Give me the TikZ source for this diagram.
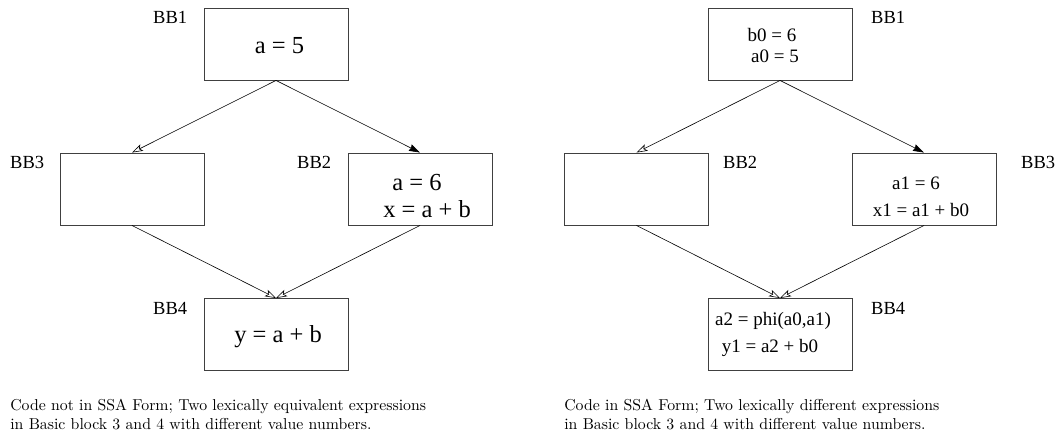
\documentclass[tikz,border=0pt]{standalone}
\usepackage{fontspec}
\newfontfamily\tms{Liberation Serif}
\usetikzlibrary{arrows.meta}
\begin{document}
\begin{tikzpicture}[x=1pt,y=-1pt,
  bbox/.style={draw=black!75,line width=0.9pt,minimum width=144pt,minimum height=72pt,inner sep=0pt},
  lbl/.style={font=\tms\fontsize{18.5}{20}\selectfont,anchor=base west,inner sep=0pt},
  big/.style={font=\tms\fontsize{24.5}{26}\selectfont,anchor=base,inner sep=0pt},
  small/.style={font=\tms\fontsize{19}{21}\selectfont,anchor=base,inner sep=0pt},
  captext/.style={font=\fontsize{10}{12}\selectfont,scale=1.58,transform shape,anchor=base west,inner sep=0pt},
  oarr/.style={-{Stealth[open,length=11pt,width=7pt,inset=2.5pt]},line width=0.6pt},
  farr/.style={-{Stealth[length=11pt,width=7pt,inset=1pt]},line width=0.6pt}]
\useasboundingbox (0,0) rectangle (1056,434);
% left panel
\node[bbox] (l1) at (276,44) {};
\node[bbox] (l3) at (132,189) {};
\node[bbox] (l2) at (420,189) {};
\node[bbox] (l4) at (276,334.5) {};
\node[lbl] (l1l) at (153,23) {BB1};
\node[lbl] (l3l) at (10,168) {BB3};
\node[lbl] (l2l) at (297,168) {BB2};
\node[lbl] (l4l) at (153,314) {BB4};
\node[big] (t1) at (279.5,53) {a = 5};
\node[big] (t2) at (417,190) {a = 6};
\node[big] (t3) at (427,217) {x = a + b};
\node[big] (t4) at (278,342) {y = a + b};
\draw[oarr] (l1.south) -- (l3.north);
\draw[farr] (l1.south) -- (l2.north);
\draw[oarr] (l3.south) -- (l4.north);
\draw[oarr] (l2.south) -- (l4.north);
\node[captext] (c1) at (10,410) {Code not in SSA Form; Two lexically equivalent expressions};
\node[captext] (c2) at (10,429) {in Basic block 3 and 4 with different value numbers.};
% right panel
\node[bbox] (r1) at (780,44) {};
\node[bbox] (r2) at (636.5,189) {};
\node[bbox] (r3) at (924,189) {};
\node[bbox] (r4) at (780,334.5) {};
\node[lbl] (r1l) at (871,23) {BB1};
\node[lbl] (r2l) at (723,168) {BB2};
\node[lbl] (r3l) at (1021,168) {BB3};
\node[lbl] (r4l) at (871,314) {BB4};
\node[small] (s1) at (772,41.5) {b0 = 6};
\node[small] (s2) at (775,62) {a0 = 5};
\node[small] (s3) at (916,189) {a1 = 6};
\node[small] (s4) at (921,216) {x1 = a1 + b0};
\node[small] (s5) at (773,325) {a2 = phi(a0,a1)};
\node[small] (s6) at (770,352) {y1 = a2 + b0};
\draw[oarr] (r1.south) -- (r2.north);
\draw[farr] (r1.south) -- (r3.north);
\draw[oarr] (r2.south) -- (r4.north);
\draw[oarr] (r3.south) -- (r4.north);
\node[captext] (c3) at (564,410) {Code in SSA Form; Two lexically different expressions};
\node[captext] (c4) at (564,429) {in Basic block 3 and 4 with different value numbers.};
\end{tikzpicture}
\end{document}
